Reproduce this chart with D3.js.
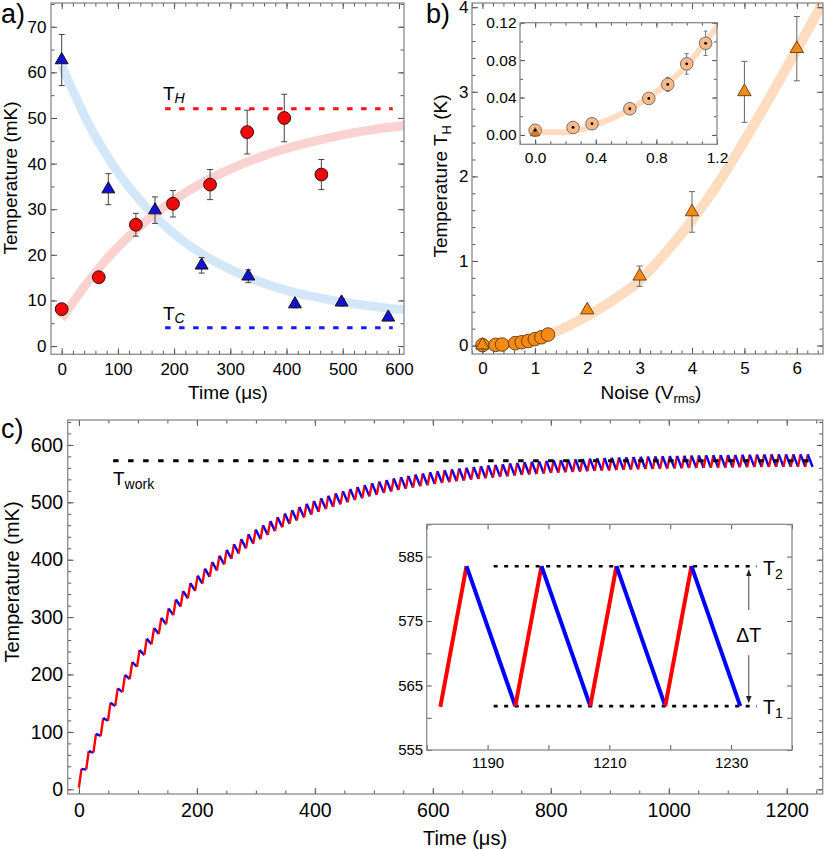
<!DOCTYPE html>
<html><head><meta charset="utf-8">
<script src="https://cdn.jsdelivr.net/npm/d3@7"></script>
<style>body{margin:0;background:#fff}</style></head>
<body><script>
// ---------------- DATA ----------------
// panel a
const aRedTime  = [0, 66, 132, 198, 264, 330, 396, 462];
const aRedTemp  = [8.1, 15.1, 26.6, 31.2, 35.4, 46.9, 50.0, 37.6];
const aRedErr   = [0.8, 0.8, 2.5, 2.9, 3.3, 4.8, 5.2, 3.3];
const aBlueTime = [0, 83, 166, 249, 332, 415, 498, 581];
const aBlueTemp = [62.7, 34.4, 29.8, 17.7, 15.3, 9.2, 9.6, 6.3];
const aBlueErr  = [5.6, 3.4, 2.9, 1.7, 1.4, 0.8, 0.8, 0.6];
const aFitTime  = [0, 50, 100, 150, 200, 250, 300, 350, 400, 450, 500, 550, 600, 620];
const aRedFit   = [6.0, 14.6, 21.7, 27.4, 32.0, 35.8, 38.8, 41.3, 43.3, 44.9, 46.3, 47.4, 48.2, 48.5];
const aBlueFit  = [61.5, 48.2, 38.1, 30.5, 24.6, 20.2, 16.8, 14.2, 12.2, 10.8, 9.6, 8.8, 8.1, 7.9];
const aTH = 52, aTC = 4, aDashFrom = 184, aDashTo = 589;
const aXTicks = [0, 100, 200, 300, 400, 500, 600];
const aYTicks = [0, 10, 20, 30, 40, 50, 60, 70];

// panel b
const bTriX   = [0, 2, 3, 4, 5, 6];
const bTriY   = [0.005, 0.42, 0.82, 1.58, 3.0, 3.51];
const bTriErr = [0, 0.04, 0.12, 0.24, 0.36, 0.38];
const bCircX   = [0, 0.25, 0.375, 0.625, 0.75, 0.875, 1.0, 1.125, 1.25];
const bCircY   = [0.005, 0.008, 0.012, 0.028, 0.039, 0.054, 0.076, 0.098, 0.13];
const bCircErr = [0.003, 0.003, 0.004, 0.004, 0.005, 0.0075, 0.011, 0.013, 0.014];
const bFitX = [0, 0.2, 0.4, 0.6, 0.8, 1.0, 1.2, 1.5, 2, 2.5, 3, 3.5, 4, 4.5, 5, 5.5, 6, 6.5, 6.6];
const bFitY = [0.003, 0.003, 0.011, 0.025, 0.046, 0.074, 0.116, 0.19, 0.35, 0.54, 0.77, 1.1, 1.48, 1.92, 2.42, 2.95, 3.5, 4.07, 4.2];
const bXTicks = [0, 1, 2, 3, 4, 5, 6];
const bYTicks = [0, 1, 2, 3, 4];
const bInXTicks = [0, 0.4, 0.8, 1.2];
const bInYTicks = [0, 0.04, 0.08, 0.12];

// panel c : sawtooth, one peak / trough per cycle
const cStartTemp = 3;
const cPeriod = 12.315;     // µs per cycle
const cHeatTime = 4.3;      // µs of heating stroke
const cPeaks = [35.5, 66.3, 96.5, 124.0, 150.7, 175.8, 199.4, 221.7, 242.7, 262.5,
  281.1, 298.6, 315.1, 330.7, 345.4, 359.2, 372.2, 384.5, 396.0, 406.9,
  417.1, 426.8, 435.9, 444.4, 452.5, 460.1, 467.2, 474.0, 480.3, 486.3,
  492.0, 497.3, 502.3, 507.0, 511.4, 515.6, 519.5, 523.3, 526.7, 530.0,
  533.1, 536.1, 538.8, 541.4, 543.8, 546.1, 548.3, 550.3, 552.3, 554.1,
  555.8, 557.4, 558.9, 560.3, 561.7, 562.9, 564.1, 565.3, 566.3, 567.8,
  568.8, 569.7, 570.6, 571.4, 572.2, 572.9, 573.6, 574.3, 574.9, 575.5,
  576.1, 576.6, 577.1, 577.6, 578.1, 578.5, 578.9, 579.3, 579.7, 580.0,
  580.3, 580.6, 580.9, 581.2, 581.4, 581.7, 581.9, 582.1, 582.3, 582.5,
  582.6, 582.8, 583.0, 583.2, 583.3, 583.4, 583.5, 583.5, 583.5, 583.5, 583.5];
const cTroughs = [34.2, 63.8, 92.9, 119.4, 145.1, 169.3, 192.0, 213.5, 233.7, 252.7,
  270.6, 287.5, 303.4, 318.4, 332.6, 345.8, 358.4, 370.2, 381.3, 391.8,
  401.6, 410.9, 419.7, 427.9, 435.7, 443.0, 449.8, 456.4, 462.4, 468.2,
  473.7, 478.8, 483.6, 488.1, 492.4, 496.4, 500.2, 503.8, 507.1, 510.3,
  513.3, 516.2, 518.8, 521.3, 523.6, 525.8, 527.9, 529.8, 531.8, 533.5,
  535.1, 536.7, 538.1, 539.5, 540.8, 542.0, 543.1, 544.3, 545.2, 546.7,
  547.6, 548.5, 549.4, 550.1, 550.9, 551.6, 552.3, 552.9, 553.5, 554.1,
  554.7, 555.2, 555.6, 556.1, 556.6, 557.0, 557.4, 557.8, 558.1, 558.4,
  558.7, 559.0, 559.3, 559.6, 559.8, 560.1, 560.3, 560.4, 560.6, 560.8,
  560.9, 561.1, 561.3, 561.5, 561.6, 561.7, 561.8, 561.8, 561.8, 561.8, 561.8];
const cTwork = 572.6, cTworkFrom = 58, cTworkTo = 1248;
const cT2 = 583.5, cT1 = 561.8, cLevelFrom = 1191, cLevelTo = 1234.2;
const cInsetFrom = 1182, cInsetTo = 1232;
const cXTicks = [0, 200, 400, 600, 800, 1000, 1200];
const cYTicks = [0, 100, 200, 300, 400, 500, 600];
const cInXTicks = [1190, 1210, 1230];
const cInYTicks = [555, 565, 575, 585];

// ---------------- DRAWING ----------------
const FONT = "'Liberation Sans', Arial, Helvetica, sans-serif";
const svg = d3.select('body').append('svg')
  .attr('width', 830).attr('height', 850).style('font-family', FONT);
let clipId = 0;

function frame(g, x, y, o) {
  const [xl, xr] = x.range(), [yb, yt] = y.range();
  const mk = (fn, scale, tr, vals, len, fmt, pad) => {
    const ax = fn(scale).tickValues(vals).tickSize(-len).tickPadding(pad).tickFormat(fmt);
    const a = g.append('g').attr('transform', tr).call(ax);
    a.select('.domain').remove();
    a.selectAll('line').attr('stroke', '#555').attr('stroke-width', 1);
    a.selectAll('text').attr('font-size', o.fs).attr('fill', '#000').attr('font-family', FONT);
  };
  const none = () => '';
  const inDom = (v, s) => v >= Math.min(...s.domain()) && v <= Math.max(...s.domain());
  const xMin = o.xMinor.filter(v => inDom(v, x)), yMin = o.yMinor.filter(v => inDom(v, y));
  mk(d3.axisBottom, x, `translate(0,${yb})`, o.xMajor, o.maj, o.xFmt, o.xPad);
  mk(d3.axisBottom, x, `translate(0,${yb})`, xMin, o.min, none, 0);
  mk(d3.axisTop, x, `translate(0,${yt})`, o.xMajor, o.maj, none, 0);
  mk(d3.axisTop, x, `translate(0,${yt})`, xMin, o.min, none, 0);
  mk(d3.axisLeft, y, `translate(${xl},0)`, o.yMajor, o.maj, o.yFmt, o.yPad);
  mk(d3.axisLeft, y, `translate(${xl},0)`, yMin, o.min, none, 0);
  mk(d3.axisRight, y, `translate(${xr},0)`, o.yMajor, o.maj, none, 0);
  mk(d3.axisRight, y, `translate(${xr},0)`, yMin, o.min, none, 0);
  g.append('rect').attr('x', xl).attr('y', yt).attr('width', xr - xl).attr('height', yb - yt)
    .attr('fill', 'none').attr('stroke', '#8a8a8a').attr('stroke-width', 1.3);
}
function clipFor(x, y) {
  const id = 'clip' + (clipId++);
  const [xl, xr] = x.range(), [yb, yt] = y.range();
  svg.append('clipPath').attr('id', id).append('rect')
    .attr('x', xl).attr('y', yt).attr('width', xr - xl).attr('height', yb - yt);
  return `url(#${id})`;
}
function label(g, x, y, parts, opt = {}) {
  const t = g.append('text').attr('x', x).attr('y', y).attr('fill', '#000')
    .attr('font-family', FONT).attr('text-anchor', opt.anchor || 'start');
  if (opt.transform) t.attr('transform', opt.transform);
  let shift = 0;
  parts.forEach(p => {
    const s = t.append('tspan').text(p.t).attr('font-size', p.fs);
    const d = (p.dy || 0) - shift; shift = p.dy || 0;
    if (d) s.attr('dy', d);
    if (p.italic) s.attr('font-style', 'italic');
  });
  return t;
}
function errBars(g, xs, ys, es, x, y, cap, color, w) {
  xs.forEach((xv, i) => {
    if (!es[i]) return;
    const px = x(xv), y1 = y(ys[i] - es[i]), y2 = y(ys[i] + es[i]);
    g.append('line').attr('x1', px).attr('x2', px).attr('y1', y1).attr('y2', y2).attr('stroke', color).attr('stroke-width', w);
    [y1, y2].forEach(py => g.append('line').attr('x1', px - cap).attr('x2', px + cap)
      .attr('y1', py).attr('y2', py).attr('stroke', color).attr('stroke-width', w));
  });
}
const tri = (size) => d3.symbol(d3.symbolTriangle, size)();

// ---------- Panel a ----------
{
  const g = svg.append('g');
  const x = d3.scaleLinear().domain([-19, 609]).range([51, 404]);
  const y = d3.scaleLinear().domain([-1.8, 75.2]).range([354.3, 3]);
  const cp = clipFor(x, y);
  const plot = g.append('g').attr('clip-path', cp);
  const line = d3.line().curve(d3.curveMonotoneX);
  plot.append('path').attr('d', line(aFitTime.map((t, i) => [x(t), y(aBlueFit[i])])))
    .attr('fill', 'none').attr('stroke', '#d3e7f9').attr('stroke-width', 9);
  plot.append('path').attr('d', line(aFitTime.map((t, i) => [x(t), y(aRedFit[i])])))
    .attr('fill', 'none').attr('stroke', '#fad2d2').attr('stroke-width', 9);
  plot.append('line').attr('x1', x(aDashFrom)).attr('x2', x(aDashTo)).attr('y1', y(aTH)).attr('y2', y(aTH))
    .attr('stroke', '#ff1010').attr('stroke-width', 3).attr('stroke-dasharray', '5.5,8.5');
  plot.append('line').attr('x1', x(aDashFrom)).attr('x2', x(aDashTo)).attr('y1', y(aTC)).attr('y2', y(aTC))
    .attr('stroke', '#1a1aff').attr('stroke-width', 3).attr('stroke-dasharray', '5.5,8.5');
  errBars(plot, aRedTime, aRedTemp, aRedErr, x, y, 3, '#444', 1);
  errBars(plot, aBlueTime, aBlueTemp, aBlueErr, x, y, 3, '#444', 1);
  aRedTime.forEach((t, i) => plot.append('circle').attr('cx', x(t)).attr('cy', y(aRedTemp[i])).attr('r', 6.4)
    .attr('fill', '#ee0a0a').attr('stroke', '#3a0808').attr('stroke-width', 1));
  aBlueTime.forEach((t, i) => plot.append('path').attr('d', tri(72))
    .attr('transform', `translate(${x(t)},${y(aBlueTemp[i])})`)
    .attr('fill', '#1212d6').attr('stroke', '#111').attr('stroke-width', 1));
  frame(g, x, y, {xMajor: aXTicks, xMinor: d3.range(-20, 620, 20), yMajor: aYTicks, yMinor: d3.range(0, 76, 5),
    xFmt: d3.format('d'), yFmt: d3.format('d'), maj: 6, min: 3.5, fs: 17, xPad: 8.5, yPad: 4.5});
  label(g, 163, 100, [{t: 'T', fs: 19}, {t: 'H', fs: 14, dy: 3, italic: true}]);
  label(g, 163, 320, [{t: 'T', fs: 19}, {t: 'C', fs: 14, dy: 3, italic: true}]);
  label(g, 228, 399, [{t: 'Time (μs)', fs: 19}], {anchor: 'middle'});
  label(g, 0, 0, [{t: 'Temperature (mK)', fs: 19}], {anchor: 'middle', transform: 'translate(17,178) rotate(-90)'});
  label(g, 1, 23, [{t: 'a)', fs: 27}]);
}

// ---------- Panel b ----------
{
  const g = svg.append('g');
  const x = d3.scaleLinear().domain([-0.2, 6.5]).range([472, 823]);
  const y = d3.scaleLinear().domain([-0.1, 4.05]).range([354, 3]);
  const cp = clipFor(x, y);
  const plot = g.append('g').attr('clip-path', cp);
  const line = d3.line().curve(d3.curveMonotoneX);
  plot.append('path').attr('d', line(bFitX.map((v, i) => [x(v), y(bFitY[i])])))
    .attr('fill', 'none').attr('stroke', '#fddcbf').attr('stroke-width', 10);
  errBars(plot, bTriX, bTriY, bTriErr, x, y, 3, '#666', 1);
  bCircX.forEach((v, i) => plot.append('circle').attr('cx', x(v)).attr('cy', y(bCircY[i])).attr('r', 6.8)
    .attr('fill', '#f68a14').attr('stroke', '#5a3a18').attr('stroke-width', 0.9));
  bTriX.forEach((v, i) => plot.append('path').attr('d', tri(78))
    .attr('transform', `translate(${x(v)},${y(bTriY[i])})`)
    .attr('fill', '#f68a14').attr('stroke', '#5a3a18').attr('stroke-width', 0.9));
  frame(g, x, y, {xMajor: bXTicks, xMinor: d3.range(-0.2, 6.55, 0.2).map(v => +v.toFixed(2)),
    yMajor: bYTicks, yMinor: d3.range(0, 4.05, 0.2).map(v => +v.toFixed(2)),
    xFmt: d3.format('d'), yFmt: d3.format('d'), maj: 6, min: 3.5, fs: 17, xPad: 7.5, yPad: 3.5});
  label(g, 651, 399, [{t: 'Noise (V', fs: 19}, {t: 'rms', fs: 13, dy: 4}, {t: ')', fs: 19}], {anchor: 'middle'});
  label(g, 0, 0, [{t: 'Temperature T', fs: 19}, {t: 'H', fs: 13, dy: 4}, {t: ' (K)', fs: 19}],
    {anchor: 'middle', transform: 'translate(447,176) rotate(-90)'});
  label(g, 426, 23, [{t: 'b)', fs: 27}]);

  // inset
  const gi = svg.append('g');
  const xi = d3.scaleLinear().domain([-0.1, 1.2]).range([520, 717]);
  const yi = d3.scaleLinear().domain([-0.01, 0.12]).range([144.3, 22.7]);
  gi.append('rect').attr('x', 520).attr('y', 22.7).attr('width', 197).attr('height', 121.6).attr('fill', '#fff');
  const cpi = clipFor(xi, yi);
  const pi = gi.append('g').attr('clip-path', cpi);
  pi.append('path').attr('d', line(bFitX.map((v, i) => [xi(v), yi(bFitY[i])])))
    .attr('fill', 'none').attr('stroke', '#fddcbf').attr('stroke-width', 6);
  const inC = bCircX.map((v, i) => i).filter(i => bCircX[i] <= 1.2);
  errBars(pi, inC.map(i => bCircX[i]), inC.map(i => bCircY[i]), inC.map(i => bCircErr[i]), xi, yi, 2, '#777', 1);
  inC.forEach(i => pi.append('circle').attr('cx', xi(bCircX[i])).attr('cy', yi(bCircY[i])).attr('r', 6.3)
    .attr('fill', '#f9b98a').attr('stroke', '#555').attr('stroke-width', 0.8));
  pi.append('path').attr('d', tri(40)).attr('transform', `translate(${xi(bTriX[0])},${yi(0.002)})`)
    .attr('fill', '#e07a2a').attr('stroke', '#6a4020').attr('stroke-width', 0.6);
  inC.forEach(i => pi.append('circle').attr('cx', xi(bCircX[i])).attr('cy', yi(bCircY[i])).attr('r', 1.4).attr('fill', '#000'));
  frame(gi, xi, yi, {xMajor: bInXTicks, xMinor: d3.range(-0.1, 1.21, 0.1).map(v => +v.toFixed(2)),
    yMajor: bInYTicks, yMinor: d3.range(-0.0, 0.121, 0.02).map(v => +v.toFixed(3)),
    xFmt: d3.format('.1f'), yFmt: d3.format('.2f'), maj: 5, min: 3, fs: 15.5, xPad: 7.5, yPad: 3.5});
}

// ---------- Panel c ----------
function sawSegments(fromT, toT) {
  const segs = [];
  cPeaks.forEach((p, k) => {
    const s = k * cPeriod, start = k === 0 ? cStartTemp : cTroughs[k - 1];
    const red = [[s, start], [s + cHeatTime, p]];
    const blue = [[s + cHeatTime, p], [s + cPeriod, cTroughs[k]]];
    if (s >= fromT && s + cHeatTime <= toT) segs.push({c: 'red', pts: red});
    if (s + cHeatTime >= fromT && s + cPeriod <= toT) segs.push({c: 'blue', pts: blue});
  });
  return segs;
}
{
  const g = svg.append('g');
  const x = d3.scaleLinear().domain([-19, 1261]).range([67.7, 822.7]);
  const y = d3.scaleLinear().domain([-8.2, 643.4]).range([794, 420]);
  const cp = clipFor(x, y);
  const plot = g.append('g').attr('clip-path', cp);
  const line = d3.line().x(d => x(d[0])).y(d => y(d[1]));
  sawSegments(-1, 1e9).forEach(s => plot.append('path').attr('d', line(s.pts))
    .attr('fill', 'none').attr('stroke', s.c === 'red' ? '#ff0000' : '#0000ff').attr('stroke-width', 2.4));
  plot.append('line').attr('x1', x(cTworkFrom)).attr('x2', x(cTworkTo)).attr('y1', y(cTwork)).attr('y2', y(cTwork))
    .attr('stroke', '#000').attr('stroke-width', 3).attr('stroke-dasharray', '5.5,9.5');
  frame(g, x, y, {xMajor: cXTicks, xMinor: d3.range(-0, 1261, 50), yMajor: cYTicks, yMinor: d3.range(0, 641, 20),
    xFmt: d3.format('d'), yFmt: d3.format('d'), maj: 6, min: 3.5, fs: 19.5, xPad: 9, yPad: 4.5});
  label(g, 113, 485, [{t: 'T', fs: 19}, {t: 'work', fs: 14, dy: 4}]);
  label(g, 465, 845, [{t: 'Time (μs)', fs: 20}], {anchor: 'middle'});
  label(g, 0, 0, [{t: 'Temperature (mK)', fs: 20}], {anchor: 'middle', transform: 'translate(18.5,582) rotate(-90)'});
  label(g, 1, 438, [{t: 'c)', fs: 27}]);

  // inset
  const gi = svg.append('g');
  const xi = d3.scaleLinear().domain([1180, 1240]).range([426.7, 792]);
  const yi = d3.scaleLinear().domain([555, 590]).range([750, 524.3]);
  gi.append('rect').attr('x', 426.7).attr('y', 524.3).attr('width', 365.3).attr('height', 225.7).attr('fill', '#fff');
  const cpi = clipFor(xi, yi);
  const pi = gi.append('g').attr('clip-path', cpi);
  const li = d3.line().x(d => xi(d[0])).y(d => yi(d[1]));
  [cT2, cT1].forEach(v => pi.append('line').attr('x1', xi(cLevelFrom)).attr('x2', xi(cLevelTo))
    .attr('y1', yi(v)).attr('y2', yi(v)).attr('stroke', '#000').attr('stroke-width', 2.6).attr('stroke-dasharray', '4,6.5'));
  sawSegments(cInsetFrom, cInsetTo).forEach(s => pi.append('path').attr('d', li(s.pts))
    .attr('fill', 'none').attr('stroke', s.c === 'red' ? '#ff0000' : '#0000ff').attr('stroke-width', 4));
  frame(gi, xi, yi, {xMajor: cInXTicks, xMinor: d3.range(1180, 1241, 10).filter(v => !cInXTicks.includes(v)),
    yMajor: cInYTicks, yMinor: d3.range(555, 591, 5).filter(v => !cInYTicks.includes(v)),
    xFmt: d3.format('d'), yFmt: d3.format('d'), maj: 5, min: 5, fs: 15, xPad: 7.5, yPad: 3.5});
  // arrows for ΔT
  const defs = svg.append('defs');
  defs.append('marker').attr('id', 'ah').attr('viewBox', '0 0 10 10').attr('refX', 9).attr('refY', 5)
    .attr('markerWidth', 7).attr('markerHeight', 7).attr('orient', 'auto-start-reverse')
    .append('path').attr('d', 'M0,1 L10,5 L0,9 Z').attr('fill', '#222');
  const ax = 1232.9;
  gi.append('line').attr('x1', xi(ax)).attr('x2', xi(ax)).attr('y1', yi(576.7)).attr('y2', yi(582.9))
    .attr('stroke', '#444').attr('stroke-width', 1).attr('marker-end', 'url(#ah)');
  gi.append('line').attr('x1', xi(ax)).attr('x2', xi(ax)).attr('y1', yi(569.7)).attr('y2', yi(562.4))
    .attr('stroke', '#444').attr('stroke-width', 1).attr('marker-end', 'url(#ah)');
  label(gi, xi(ax), 642, [{t: 'ΔT', fs: 19.5}], {anchor: 'middle'});
  label(gi, 763, 575, [{t: 'T', fs: 19.5}, {t: '2', fs: 14, dy: 4}]);
  label(gi, 763, 714, [{t: 'T', fs: 19.5}, {t: '1', fs: 14, dy: 4}]);
}
</script></body></html>
